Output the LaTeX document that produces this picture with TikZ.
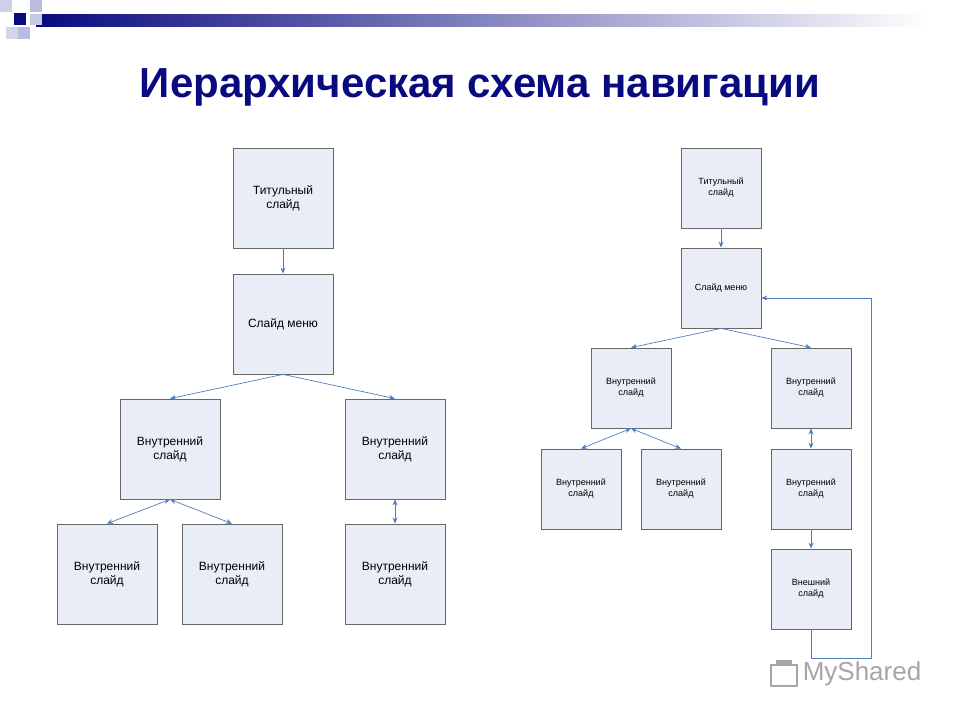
\documentclass[tikz,border=0pt]{standalone}
\usepackage{fontspec}
\setmainfont{Liberation Sans}
\usetikzlibrary{arrows.meta}
\definecolor{navy}{HTML}{0A0A80}
\definecolor{boxfill}{HTML}{E9EDF5}
\definecolor{arr}{HTML}{4F7FC0}
\definecolor{lav}{HTML}{B8BCE0}
\begin{document}
\begin{tikzpicture}[x=1pt,y=-1pt,
  bx/.style={draw=gray!80!black,fill=boxfill,line width=0.8pt,align=center,inner sep=0pt},
  big/.style={bx,minimum width=100pt,minimum height=100pt,font=\fontsize{12}{14}\selectfont},
  sm/.style={bx,minimum width=80pt,minimum height=80pt,font=\fontsize{9}{11}\selectfont},
  ar/.style={draw=arr,line width=0.7pt,-{Stealth[length=6pt,width=5pt]}},
  dar/.style={draw=arr,line width=0.7pt,{Stealth[length=6pt,width=5pt]}-{Stealth[length=6pt,width=5pt]}}]
\useasboundingbox (0,0) rectangle (960,720);
\fill[white] (0,0) rectangle (960,720);
% header decoration
\shade[left color=navy,right color=white] (36,14) rectangle (930,26);
\fill[navy] (14,13) rectangle (26,25);
\fill[lav] (30,0) rectangle (42,12);
\fill[lav!70] (0,0) rectangle (12,12);
\fill[lav!80] (30,14) rectangle (42,25);
\fill[lav] (18,27) rectangle (30,39);
\fill[lav!60] (6,27) rectangle (18,39);
\node[font=\bfseries\fontsize{42}{46}\selectfont,text=navy] (title) at (480,87) {Иерархическая схема навигации};
% left tree
\node[big] (t1) at (283,198) {Титульный\\слайд};
\node[big] (m1) at (283,324) {Слайд меню};
\node[big] (a1) at (170,449) {Внутренний\\слайд};
\node[big] (b1) at (395,449) {Внутренний\\слайд};
\node[big] (c1) at (107,574) {Внутренний\\слайд};
\node[big] (d1) at (232,574) {Внутренний\\слайд};
\node[big] (e1) at (395,574) {Внутренний\\слайд};
\draw[ar] (t1.south) -- (m1.north);
\draw[ar] (m1.south) -- (a1.north);
\draw[ar] (m1.south) -- (b1.north);
\draw[dar] (a1.south) -- (c1.north);
\draw[dar] (a1.south) -- (d1.north);
\draw[dar] (b1.south) -- (e1.north);
% right tree
\node[sm] (t2) at (721,188) {Титульный\\слайд};
\node[sm] (m2) at (721,288) {Слайд меню};
\node[sm] (a2) at (631,388) {Внутренний\\слайд};
\node[sm] (b2) at (811,388) {Внутренний\\слайд};
\node[sm] (c2) at (581,489) {Внутренний\\слайд};
\node[sm] (d2) at (681,489) {Внутренний\\слайд};
\node[sm] (e2) at (811,489) {Внутренний\\слайд};
\node[sm] (f2) at (811,589) {Внешний\\слайд};
\draw[ar] (t2.south) -- (m2.north);
\draw[ar] (m2.south) -- (a2.north);
\draw[ar] (m2.south) -- (b2.north);
\draw[dar] (a2.south) -- (c2.north);
\draw[dar] (a2.south) -- (d2.north);
\draw[dar] (b2.south) -- (e2.north);
\draw[ar] (e2.south) -- (f2.north);
\draw[ar] (f2.south) -- ++(0,29) -| (871,298) -- (m2.east |- 0,298);
% logo
\node[font=\fontsize{26}{28}\selectfont,text=gray!70] (logo) at (862,674) {MyShared};
\draw[gray!70,line width=2pt] (771,665) rectangle (797,686);
\fill[gray!70] (776,660) rectangle (792,664);
\end{tikzpicture}
\end{document}
